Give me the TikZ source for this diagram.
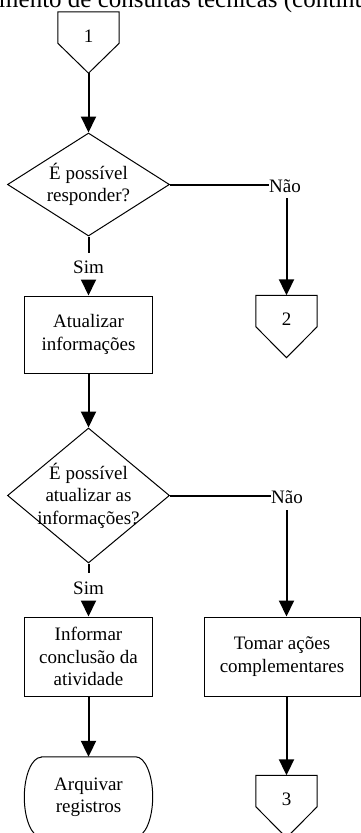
\documentclass[tikz,border=0pt]{standalone}
\usepackage{fontspec}
\setmainfont{Liberation Serif}
\usetikzlibrary{arrows.meta,calc,shapes.geometric}
\begin{document}
\begin{tikzpicture}[x=1pt,y=1pt,
  flow/.style={line width=2pt, -{Triangle[width=15pt,length=16pt]}},
  link/.style={line width=2pt},
  outline/.style={draw, line width=1pt},
  txt/.style={font=\fontsize{19}{22.5}\selectfont, align=center, inner sep=0pt},
  procbox/.style={txt, outline, minimum width=128pt},
  decision/.style={diamond, outline, minimum width=162pt, inner sep=0pt},
  conn/.style={minimum width=61pt, minimum height=31pt, inner sep=0pt},
  lbl/.style={txt},
]
\clip (0,0) rectangle (361,-833);

% heading of the page
\node[anchor=base west, font=\fontsize{25}{30}\selectfont, inner sep=0pt] (title)
  at (-69,-7) {Atendimento de consultas técnicas (continuação)};

% off-page connector 1
\node[conn] (c1) at (88.5,-27.5) {};
\coordinate (c1tip) at ($(c1.south)+(0,-30)$);
\draw[outline] (c1.north west) -- (c1.north east) -- (c1.south east) -- (c1tip) -- (c1.south west) -- cycle;
\node[txt] (n1) at ($(c1.center)+(0,-8.5)$) {1};

% first decision
\node[decision, minimum height=103pt] (d1) at (88.5,-184.5) {};
\node[txt] (d1t) at (d1.center) {É possível\\responder?};
\node[lbl, minimum height=29pt] (sim1) at (88.5,-267.5) {Sim};
\node[lbl, minimum height=24pt] (nao1) at (285,-186) {Não};

% off-page connector 2
\node[conn] (c2) at (286.5,-311) {};
\coordinate (c2tip) at ($(c2.south)+(0,-31)$);
\draw[outline] (c2.north west) -- (c2.north east) -- (c2.south east) -- (c2tip) -- (c2.south west) -- cycle;
\node[txt] (n2) at ($(c2.center)+(0,-8.5)$) {2};

% update step
\node[procbox, minimum height=77pt] (atual) at (88.5,-334.5) {Atualizar\\informações};

% second decision
\node[decision, minimum height=135pt] (d2) at (88.5,-495.5) {};
\node[txt] (d2t) at (d2.center) {É possível\\atualizar as\\informações?};
\node[lbl, minimum height=30pt] (sim2) at (88.5,-588) {Sim};
\node[lbl, minimum height=26pt] (nao2) at (287,-497) {Não};

% final steps
\node[procbox, minimum height=79pt] (inform) at (88.5,-656.5) {Informar\\conclusão da\\atividade};
\node[procbox, minimum width=156pt, minimum height=79pt] (tomar) at (282,-656.5) {Tomar ações\\complementares};

% terminal
\node[txt, minimum width=128pt, minimum height=80pt] (arq) at (88.5,-797) {Arquivar\\registros};
\draw[outline] ($(arq.north west)+(17,0)$) -- ($(arq.north east)+(-17,0)$)
  arc[start angle=90, end angle=-90, x radius=17, y radius=40]
  -- ($(arq.south west)+(17,0)$)
  arc[start angle=270, end angle=90, x radius=17, y radius=40] -- cycle;

% off-page connector 3
\node[conn] (c3) at (286.5,-791) {};
\coordinate (c3tip) at ($(c3.south)+(0,-31)$);
\draw[outline] (c3.north west) -- (c3.north east) -- (c3.south east) -- (c3tip) -- (c3.south west) -- cycle;
\node[txt] (n3) at ($(c3.center)+(0,-8.5)$) {3};

% connectors
\draw[flow] (c1tip) -- (d1.north);
\draw[link] (d1.south) -- (sim1.north);
\draw[flow] (sim1.south) -- (atual.north);
\draw[link] (d1.east) -- (d1.east -| nao1.west);
\draw[flow] (nao1.south -| c2) -- (c2.north);
\draw[flow] (atual.south) -- (d2.north);
\draw[link] (d2.south) -- (sim2.north);
\draw[flow] (sim2.south) -- (inform.north);
\draw[link] (d2.east) -- (d2.east -| nao2.west);
\draw[flow] (nao2.south -| c3) -- (tomar.north -| c3);
\draw[flow] (inform.south) -- (arq.north);
\draw[flow] (tomar.south -| c3) -- (c3.north);
\end{tikzpicture}
\end{document}
